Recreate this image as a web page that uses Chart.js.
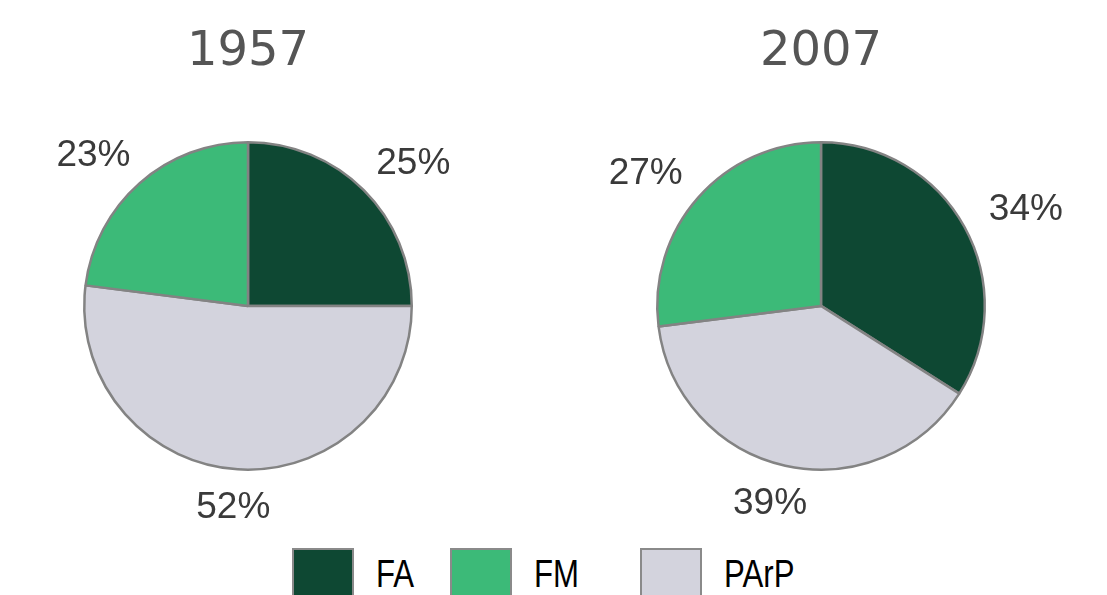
<!DOCTYPE html>
<html>
<head>
<meta charset="utf-8">
<script src="https://cdn.jsdelivr.net/npm/chart.js@4.4.1/dist/chart.umd.min.js"></script>
<style>
  body { margin: 0; background: #fff; width: 1107px; height: 595px; overflow: hidden; position: relative; }
  canvas { position: absolute; top: 0; }
  .item { position: absolute; top: 548px; display: flex; align-items: flex-start;
    font-family: "Liberation Sans", Arial, sans-serif; font-size: 38px; color: #000; }
  .box { width: 58px; height: 52px; border: 2px solid #8a8a8a; margin-right: 22px; box-sizing: content-box; }
  .lbl { line-height: 1; margin-top: 7px; display: inline-block; transform: scaleX(0.82); transform-origin: left top; white-space: nowrap; }
</style>
</head>
<body>
<canvas id="pie1957" width="540" height="540" style="left:-22px"></canvas>
<canvas id="pie2007" width="540" height="540" style="left:551px"></canvas>
<script>
// slices are drawn clockwise from 12 o'clock: FA, PArP, FM
const categories = ['FA', 'PArP', 'FM'];
const values1957 = [25, 52, 23];
const values2007 = [34, 39, 27];
const legendOrder = ['FA', 'FM', 'PArP'];
const colors = { FA: '#0e4833', FM: '#3cba78', PArP: '#d3d3dd' };
const legendLeft = [292, 450, 640];

// percent labels outside the pie, placed on an ellipse round the rim
const outsideLabels = {
  id: 'outsideLabels',
  afterDatasetsDraw(chart) {
    const ctx = chart.ctx;
    const meta = chart.getDatasetMeta(0);
    ctx.save();
    ctx.font = '37px "Liberation Sans", Arial, sans-serif';
    ctx.fillStyle = '#3a3a3a';
    ctx.textAlign = 'center';
    ctx.textBaseline = 'middle';
    meta.data.forEach((arc, i) => {
      const text = chart.data.datasets[0].data[i] + '%';
      const mid = (arc.startAngle + arc.endAngle) / 2;
      const rx = arc.outerRadius + 70;
      const ry = arc.outerRadius + 38;
      ctx.fillText(text, arc.x + Math.cos(mid) * rx, arc.y + Math.sin(mid) * ry + 1);
    });
    ctx.restore();
  }
};

function makePie(id, year, values) {
  return new Chart(document.getElementById(id), {
    type: 'pie',
    data: {
      labels: categories,
      datasets: [{
        data: values,
        backgroundColor: categories.map(c => colors[c]),
        borderColor: '#838383',
        borderWidth: 2.5
      }]
    },
    options: {
      responsive: false,
      animation: false,
      devicePixelRatio: 1,
      layout: { padding: { left: 105, right: 105, top: 0, bottom: 69 } },
      plugins: {
        legend: { display: false },
        tooltip: { enabled: false },
        title: {
          display: true,
          text: year,
          color: '#555555',
          font: { family: '"DejaVu Sans", sans-serif', size: 48, weight: 'normal', lineHeight: 1.1 },
          padding: { top: 26, bottom: 62 }
        }
      }
    },
    plugins: [outsideLabels]
  });
}

makePie('pie1957', '1957', values1957);
makePie('pie2007', '2007', values2007);

legendOrder.forEach((name, i) => {
  const item = document.createElement('div');
  item.className = 'item';
  item.style.left = legendLeft[i] + 'px';
  const box = document.createElement('div');
  box.className = 'box';
  box.style.background = colors[name];
  const lbl = document.createElement('span');
  lbl.className = 'lbl';
  lbl.textContent = name;
  item.appendChild(box);
  item.appendChild(lbl);
  document.body.appendChild(item);
});
</script>
</body>
</html>
